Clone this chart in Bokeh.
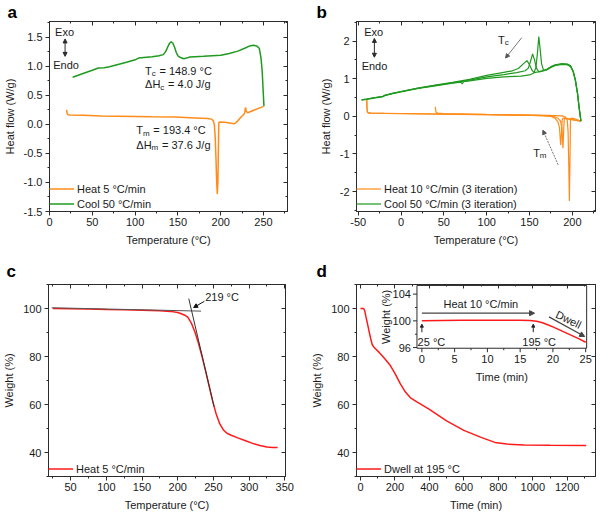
import math
from bokeh.plotting import figure
from bokeh.layouts import row, column
from bokeh.models import (Range1d, LinearAxis, FixedTicker, PrintfTickFormatter, CustomJSTickFormatter,
                          Legend, LegendItem, Arrow, NormalHead)
from bokeh.core.properties import value
from bokeh.embed import file_html
from bokeh.resources import INLINE

FONT = "Liberation Sans"
ORANGE = "#FF8C1A"
GREEN = "#1F9A1F"
RED = "#FF1A1A"
INK = "#1A1A1A"
AXC = "#2B2B2B"
GUIDE = "#555555"

# ---------------- data ----------------
# (a) DSC, heat 5 C/min and cool 50 C/min
a_heat_T = [20, 20.6, 21.5, 24, 40, 60, 80, 100, 120, 147, 170, 185, 189, 191, 192.5, 193.5, 194.5,
            195.3, 196, 196.7, 197.3, 197.8, 199, 205, 212, 216, 220, 224, 227, 228, 229, 230, 231.5,
            235, 240, 245, 250]
a_heat_Q = [0.25, 0.19, 0.165, 0.16, 0.155, 0.145, 0.14, 0.135, 0.13, 0.125, 0.11, 0.1, 0.09, 0.07,
            0.0, -0.2, -0.6, -1.0, -1.2, -1.0, -0.4, 0.03, 0.04, 0.035, 0.02, 0.01, 0.06, 0.13, 0.17,
            0.2, 0.29, 0.22, 0.2, 0.22, 0.25, 0.28, 0.31]
a_cool_T = [27, 40, 50, 57, 64, 70, 80, 90, 100, 104, 110, 120, 128, 133, 136, 138, 140, 142, 144,
            146, 148, 150, 153, 157, 160, 164, 170, 180, 190, 200, 210, 220, 228, 234, 238, 242, 245,
            247, 248.5, 249.5, 250.5]
a_cool_Q = [0.81, 0.88, 0.93, 0.97, 0.975, 0.99, 1.03, 1.07, 1.11, 1.14, 1.15, 1.165, 1.18, 1.2, 1.26,
            1.33, 1.39, 1.42, 1.4, 1.33, 1.24, 1.18, 1.15, 1.13, 1.14, 1.16, 1.165, 1.17, 1.18, 1.19,
            1.22, 1.26, 1.31, 1.35, 1.36, 1.35, 1.31, 1.15, 0.9, 0.6, 0.31]

# (b) DSC, three heating / cooling iterations
b_heat1_T = [40, 40.4, 41, 43, 50, 70, 100, 130, 160, 180, 188, 192, 194, 195, 195.8, 196.5, 197.2,
             197.8, 199, 203, 207, 210]
b_heat1_Q = [0.25, 0.16, 0.1, 0.085, 0.075, 0.065, 0.05, 0.04, 0.03, 0.02, 0.01, -0.02, -0.1, -0.4,
             -1.3, -2.25, -1.2, -0.06, -0.05, -0.07, -0.1, -0.13]
b_heat2_T = [-40, -39.7, -39.2, -38, -35, -20, 0, 30, 60, 100, 140, 165, 175, 180, 183, 185, 186.3,
             187.2, 188, 189, 192, 200, 210]
b_heat2_Q = [0.44, 0.2, 0.11, 0.09, 0.085, 0.08, 0.075, 0.065, 0.055, 0.045, 0.03, 0.02, 0.0, -0.06,
             -0.14, -0.3, -0.76, -0.5, -0.1, -0.05, -0.06, -0.09, -0.13]
b_heat3_T = [-40, -39.7, -39.2, -38, -35, -20, 0, 30, 60, 100, 140, 165, 178, 183, 186, 187.8, 189,
             189.8, 190.5, 191.5, 194, 200, 210]
b_heat3_Q = [0.43, 0.2, 0.11, 0.09, 0.085, 0.078, 0.072, 0.062, 0.052, 0.042, 0.028, 0.018, 0.0,
             -0.05, -0.12, -0.3, -0.85, -0.4, -0.08, -0.05, -0.06, -0.09, -0.13]
b_cool1_T = [-46, -40, -30, -24, -21, -19, -10, 0, 20, 40, 60, 70, 71.5, 73, 80, 100, 120, 140, 150,
             155, 157.5, 159.3, 160.8, 162.3, 164, 166.5, 170, 175, 180, 188, 194, 198, 201, 203.5,
             206, 208, 210]
b_cool1_Q = [0.43, 0.45, 0.49, 0.51, 0.52, 0.55, 0.60, 0.65, 0.74, 0.81, 0.88, 0.91, 0.86, 0.92,
             0.94, 1.01, 1.05, 1.07, 1.10, 1.15, 1.3, 1.7, 2.12, 1.8, 1.4, 1.21, 1.23, 1.3, 1.35,
             1.38, 1.37, 1.32, 1.18, 0.95, 0.6, 0.2, -0.13]
b_cool2_T = [-46, -40, -30, -24, -21, -19, -10, 0, 20, 40, 60, 80, 100, 120, 135, 145, 148.5, 151,
             153.6, 155.8, 158, 161, 165, 170, 175, 180, 188, 194, 198, 201, 203.5, 206, 208, 210]
b_cool2_Q = [0.44, 0.46, 0.5, 0.52, 0.53, 0.56, 0.61, 0.66, 0.75, 0.82, 0.89, 0.96, 1.05, 1.11,
             1.16, 1.21, 1.28, 1.45, 1.66, 1.5, 1.28, 1.18, 1.2, 1.24, 1.31, 1.36, 1.39, 1.38, 1.33,
             1.19, 0.96, 0.61, 0.21, -0.13]
b_cool3_T = [-46, -40, -30, -24, -21, -19, -10, 0, 20, 40, 60, 80, 100, 120, 130, 137, 142, 147,
             150, 153, 155.5, 160, 165, 170, 175, 180, 188, 194, 198, 201, 203.5, 206, 208, 210]
b_cool3_Q = [0.44, 0.46, 0.5, 0.52, 0.53, 0.56, 0.61, 0.66, 0.75, 0.83, 0.9, 0.98, 1.09, 1.17, 1.21,
             1.27, 1.38, 1.48, 1.37, 1.22, 1.16, 1.18, 1.21, 1.25, 1.32, 1.37, 1.40, 1.39, 1.34, 1.2,
             0.97, 0.62, 0.22, -0.13]

# (c) TGA, heat 5 C/min
c_T = [25, 50, 75, 100, 125, 150, 175, 190, 200, 205, 210, 214, 219, 224, 229, 234, 239, 244, 249,
       254, 259, 264, 269, 275, 285, 295, 305, 315, 325, 333, 340]
c_W = [100.0, 99.9, 99.8, 99.6, 99.45, 99.3, 99.1, 98.8, 98.3, 97.8, 97.2, 96.4, 94.0, 90.3, 85.6,
       80.1, 74.0, 67.7, 61.4, 55.9, 51.9, 49.4, 48.0, 47.2, 46.0, 44.9, 43.8, 42.9, 42.3, 42.1, 42.1]
c_base_T = [23.6, 232.7]          # baseline tangent
c_base_W = [100.3, 98.9]
c_slope_T = [215.5, 250.9]        # steepest-descent tangent
c_slope_W = [104.1, 59.1]

# (d) TGA, dwell at 195 C
d_t = [0, 15, 20, 25, 32, 40, 50, 60, 68, 75, 90, 110, 140, 170, 200, 230, 260, 290, 330, 400, 500,
       600, 700, 780, 850, 950, 1100, 1310]
d_w = [100, 100, 99.8, 99.0, 96.5, 93.9, 90.5, 87.3, 85.0, 84.2, 83.0, 81.6, 79.2, 76.6, 73.0, 68.8,
       65.3, 62.8, 61.0, 58.0, 53.2, 49.2, 46.3, 44.2, 43.5, 43.1, 43.0, 42.9]
# inset: first 25 min
in_t = [0, 3, 6, 9, 12, 15, 16.5, 17.5, 18.3, 19, 20, 21, 22, 23, 24, 25]
in_w = [100.0, 100.05, 100.08, 100.1, 100.1, 100.1, 100.05, 99.95, 99.75, 99.5, 99.1, 98.65, 98.2,
        97.75, 97.3, 96.8]

# ticks
a_xticks = [0, 50, 100, 150, 200, 250]
a_yticks = [-1.5, -1.0, -0.5, 0.0, 0.5, 1.0, 1.5]
b_xticks = [-50, 0, 50, 100, 150, 200]
b_yticks = [-2, -1, 0, 1, 2]
c_xticks = [50, 100, 150, 200, 250, 300, 350]
c_yticks = [40, 60, 80, 100]
d_xticks = [0, 200, 400, 600, 800, 1000, 1200]
d_yticks = [40, 60, 80, 100]
in_xticks = [0, 5, 10, 15, 20, 25]
in_yticks = [96, 100, 104]

# ---------------- layout ----------------
W_L, W_R = 296, 302
H1, H2 = 248, 265
B_A = (44, 9, 20, 36)
B_B = (60, 3, 20, 36)
B_C = (44, 11, 36, 36)
B_D = (60, 3, 36, 36)


def tick_list(lo, hi, step):
    k0 = math.ceil(lo / step - 1e-9)
    k1 = math.floor(hi / step + 1e-9)
    return [round(k * step, 6) for k in range(k0, k1 + 1)]


def minors(rng, step, majors):
    return [t for t in tick_list(rng[0], rng[1], step) if all(abs(t - m) > 1e-6 for m in majors)]


def style_axis(ax, standoff):
    ax.axis_line_color = AXC
    ax.major_tick_line_color = AXC
    ax.minor_tick_line_color = AXC
    ax.major_tick_out = 4
    ax.major_tick_in = 0
    ax.minor_tick_out = 2
    ax.minor_tick_in = 0
    ax.major_label_text_font = FONT
    ax.major_label_text_font_size = "11px"
    ax.major_label_text_color = INK
    ax.axis_label_text_font = FONT
    ax.axis_label_text_font_size = "11px"
    ax.axis_label_text_font_style = "normal"
    ax.axis_label_text_color = INK
    ax.major_label_standoff = standoff
    ax.axis_label_standoff = 5


def mirror_axis(ticker):
    return LinearAxis(ticker=ticker, formatter=CustomJSTickFormatter(code="return ''"),
                      major_label_text_font_size="0px", major_label_standoff=0,
                      major_tick_in=4, major_tick_out=0, minor_tick_in=2, minor_tick_out=0,
                      axis_line_color=AXC, major_tick_line_color=AXC, minor_tick_line_color=AXC)


def make_fig(w, h, borders, xr, yr, xmaj, xstep, ymaj, ystep, xlabel, ylabel, letter, letter_x,
             letter_gap, xfmt="%d", yfmt="%d"):
    bl, br, bt, bb = borders
    p = figure(width=w, height=h, x_range=Range1d(*xr), y_range=Range1d(*yr),
               output_backend="svg", toolbar_location=None, tools="",
               min_border_left=bl, min_border_right=br, min_border_top=bt, min_border_bottom=bb)
    p.title.text = letter
    p.title.text_font = FONT
    p.title.text_font_size = "17px"
    p.title.text_font_style = "bold"
    p.title.text_color = "black"
    p.title.align = "left"
    p.title.offset = letter_x - bl
    p.title.standoff = letter_gap
    p.xgrid.visible = False
    p.ygrid.visible = False
    p.outline_line_color = AXC
    p.background_fill_color = "white"
    p.border_fill_color = "white"
    xt = FixedTicker(ticks=xmaj, minor_ticks=minors(xr, xstep, xmaj))
    yt = FixedTicker(ticks=ymaj, minor_ticks=minors(yr, ystep, ymaj))
    xa, ya = p.xaxis[0], p.yaxis[0]
    xa.ticker, ya.ticker = xt, yt
    xa.formatter = PrintfTickFormatter(format=xfmt)
    ya.formatter = PrintfTickFormatter(format=yfmt)
    xa.axis_label, ya.axis_label = xlabel, ylabel
    style_axis(xa, 2)
    style_axis(ya, 3)
    p.add_layout(mirror_axis(xt), "above")
    p.add_layout(mirror_axis(yt), "right")
    return p


def txt(p, x, y, s, size="11px", align="left", baseline="middle", angle=0.0, dx=0, dy=0, **kw):
    return p.text(x=[x], y=[y], text=[s], text_font=value(FONT), text_font_size=value(size),
                  text_color=INK, text_align=align, text_baseline=baseline, angle=angle,
                  x_offset=dx, y_offset=dy, **kw)


def sub_label(p, x, y, main, sub, rest, w_main, w_sub):
    txt(p, x, y, main)
    txt(p, x, y, sub, size="8px", dx=w_main, dy=3)
    if rest:
        txt(p, x, y, rest, dx=w_main + w_sub + 3.5)


def legend(p, items):
    lg = Legend(items=[LegendItem(label=l, renderers=[r]) for l, r in items], location="bottom_left",
                border_line_color=None, background_fill_alpha=0, label_text_font=FONT,
                label_text_font_size="11px", label_text_color=INK, glyph_width=25, glyph_height=15,
                label_height=15, spacing=0, padding=3, margin=0, label_standoff=3)
    p.add_layout(lg)


def arrow(p, x0, y0, x1, y1, both=False, color=AXC, dash="solid", width=1, size=5, **kw):
    head = dict(size=size, fill_color=color, line_color=color, line_width=1)
    a = Arrow(x_start=x0, y_start=y0, x_end=x1, y_end=y1, end=NormalHead(**head),
              start=NormalHead(**head) if both else None, line_color=color, line_width=width,
              line_dash=dash, **kw)
    p.add_layout(a)


# ---------------- (a) ----------------
A_XR, A_YR = (0, 278), (-1.5, 1.77)
pa = make_fig(W_L, H1, B_A, A_XR, A_YR, a_xticks, 25, a_yticks, 0.25,
              "Temperature (°C)", "Heat flow (W/g)", "a", 2, 0, yfmt="%.1f")
ra1 = pa.line(a_heat_T, a_heat_Q, line_color=ORANGE, line_width=1.5)
ra2 = pa.line(a_cool_T, a_cool_Q, line_color=GREEN, line_width=1.5)
legend(pa, [("Heat 5 °C/min", ra1), ("Cool 50 °C/min", ra2)])
txt(pa, 17.6, 1.59, "Exo", align="center")
arrow(pa, 18.2, 1.47, 18.2, 1.17, both=True, size=4)
txt(pa, 19.3, 1.02, "Endo", align="center")
sub_label(pa, 111.6, 0.92, "T", "c", "= 148.9 °C", 6.7, 4.2)
sub_label(pa, 111.6, 0.69, "ΔH", "c", "= 4.0 J/g", 15.3, 4.2)
sub_label(pa, 101.4, -0.10, "T", "m", "= 193.4 °C", 6.7, 6.8)
sub_label(pa, 101.4, -0.35, "ΔH", "m", "= 37.6 J/g", 15.3, 6.8)

# ---------------- (b) ----------------
B_XR, B_YR = (-52, 227), (-2.53, 2.52)
pb = make_fig(W_R, H1, B_B, B_XR, B_YR, b_xticks, 25, b_yticks, 0.5,
              "Temperature (°C)", "Heat flow (W/g)", "b", 20, 0)
rb_h = None
for T, Q in ((b_heat2_T, b_heat2_Q), (b_heat3_T, b_heat3_Q), (b_heat1_T, b_heat1_Q)):
    r = pb.line(T, Q, line_color=ORANGE, line_width=1.2)
    rb_h = rb_h or r
rb_c = None
for T, Q in ((b_cool1_T, b_cool1_Q), (b_cool2_T, b_cool2_Q), (b_cool3_T, b_cool3_Q)):
    r = pb.line(T, Q, line_color=GREEN, line_width=1.2)
    rb_c = rb_c or r
legend(pb, [("Heat 10 °C/min (3 iteration)", rb_h), ("Cool 50 °C/min (3 iteration)", rb_c)])
txt(pb, -32, 2.23, "Exo", align="center")
arrow(pb, -31.1, 2.07, -31.1, 1.57, both=True, size=4)
txt(pb, -31, 1.34, "Endo", align="center")
sub_label(pb, 113.2, 2.03, "T", "c", "", 6.7, 4.2)
arrow(pb, 140.9, 2.09, 122, 1.55, color=GUIDE, width=0.8, size=4)
sub_label(pb, 154.2, -0.97, "T", "m", "", 6.7, 6.8)
arrow(pb, 183.4, -1.29, 165.6, -0.37, color=GUIDE, width=0.8, size=4, dash="2 1")

# ---------------- (c) ----------------
C_XR, C_YR = (19, 351), (30, 110)
pc = make_fig(W_L, H2, B_C, C_XR, C_YR, c_xticks, 25, c_yticks, 10,
              "Temperature (°C)", "Weight (%)", "c", 2, 7)
rc = pc.line(c_T, c_W, line_color=RED, line_width=1.5)
pc.line(c_base_T, c_base_W, line_color=GUIDE, line_width=1)
pc.line(c_slope_T, c_slope_W, line_color="#333333", line_width=1)
legend(pc, [("Heat 5 °C/min", rc)])
txt(pc, 238.5, 104.7, "219 °C")
arrow(pc, 237.3, 103.0, 222.3, 100.4, color="#111111", width=1, size=4)

# ---------------- (d) ----------------
D_XR, D_YR = (-23, 1364), (30, 110)
pd = make_fig(W_R, H2, B_D, D_XR, D_YR, d_xticks, 100, d_yticks, 10,
              "Time (min)", "Weight (%)", "d", 20, 7)
rd = pd.line(d_t, d_w, line_color=RED, line_width=1.5)
legend(pd, [("Dwell at 195 °C", rd)])

# inset placed in the upper part of the frame via extra ranges
IN_XLIM, IN_YLIM = (-0.75, 25.15), (95.9, 105.3)
IN_L, IN_R, IN_B, IN_T = 0.253, 0.963, 0.668, 0.995   # fractions of the frame
FW_D = W_R - B_D[0] - B_D[1]
FH_D = H2 - B_D[2] - B_D[3]
span_x = (IN_XLIM[1] - IN_XLIM[0]) / (IN_R - IN_L)
span_y = (IN_YLIM[1] - IN_YLIM[0]) / (IN_T - IN_B)
ix0 = IN_XLIM[0] - IN_L * span_x
iy0 = IN_YLIM[0] - IN_B * span_y
pd.extra_x_ranges = {"ix": Range1d(ix0, ix0 + span_x)}
pd.extra_y_ranges = {"iy": Range1d(iy0, iy0 + span_y)}
px_x = span_x / FW_D
px_y = span_y / FH_D
IR = dict(x_range_name="ix", y_range_name="iy")

pd.quad(left=[IN_XLIM[0]], right=[IN_XLIM[1]], bottom=[IN_YLIM[0]], top=[IN_YLIM[1]],
        fill_color="white", line_color=AXC, line_width=1, **IR)
in_xminor = minors(IN_XLIM, 2.5, in_xticks)
in_yminor = minors(IN_YLIM, 2, in_yticks)
bx = in_xticks + in_xminor
blen = [4] * len(in_xticks) + [2] * len(in_xminor)
pd.segment(x0=bx, y0=[IN_YLIM[0]] * len(bx), x1=bx, y1=[IN_YLIM[0] - l * px_y for l in blen],
           line_color=AXC, line_width=1, **IR)
ly = in_yticks + in_yminor
llen = [4] * len(in_yticks) + [2] * len(in_yminor)
pd.segment(x0=[IN_XLIM[0]] * len(ly), y0=ly, x1=[IN_XLIM[0] - l * px_x for l in llen], y1=ly,
           line_color=AXC, line_width=1, **IR)
pd.text(x=in_xticks, y=[IN_YLIM[0]] * len(in_xticks), text=[str(t) for t in in_xticks],
        text_font=value(FONT), text_font_size=value("11px"), text_color=INK, text_align="center",
        text_baseline="top", y_offset=7, **IR)
pd.text(x=[IN_XLIM[0]] * len(in_yticks), y=in_yticks, text=[str(t) for t in in_yticks],
        text_font=value(FONT), text_font_size=value("11px"), text_color=INK, text_align="right",
        text_baseline="middle", x_offset=-6, **IR)
txt(pd, (IN_XLIM[0] + IN_XLIM[1]) / 2, IN_YLIM[0], "Time (min)", align="center", baseline="top",
    dy=23, **IR)
txt(pd, IN_XLIM[0] - 31 * px_x, (IN_YLIM[0] + IN_YLIM[1]) / 2, "Weight (%)", align="center",
    baseline="middle", angle=math.pi / 2, **IR)
pd.line(in_t, in_w, line_color=RED, line_width=1.5, **IR)
arrow(pd, 0, 101.15, 17.2, 101.15, color="#444444", width=1.2, size=5, **IR)
txt(pd, 9.0, 102.5, "Heat 10 °C/min", align="center", **IR)
arrow(pd, 0, 98.3, 0, 99.5, color="#222222", width=1, size=3, **IR)
arrow(pd, 17.0, 98.3, 17.0, 99.5, color="#222222", width=1, size=3, **IR)
txt(pd, -0.65, 96.9, "25 °C", **IR)
txt(pd, 17.9, 96.9, "195 °C", align="center", **IR)
arrow(pd, 19.4, 100.6, 24.85, 97.65, color="#444444", width=1.2, size=5, **IR)
txt(pd, 22.4, 100.2, "Dwell", align="center", angle=-0.45, **IR)

layout = column(row(pa, pb), row(pc, pd))
open("out.html", "w").write(file_html(layout, INLINE))
